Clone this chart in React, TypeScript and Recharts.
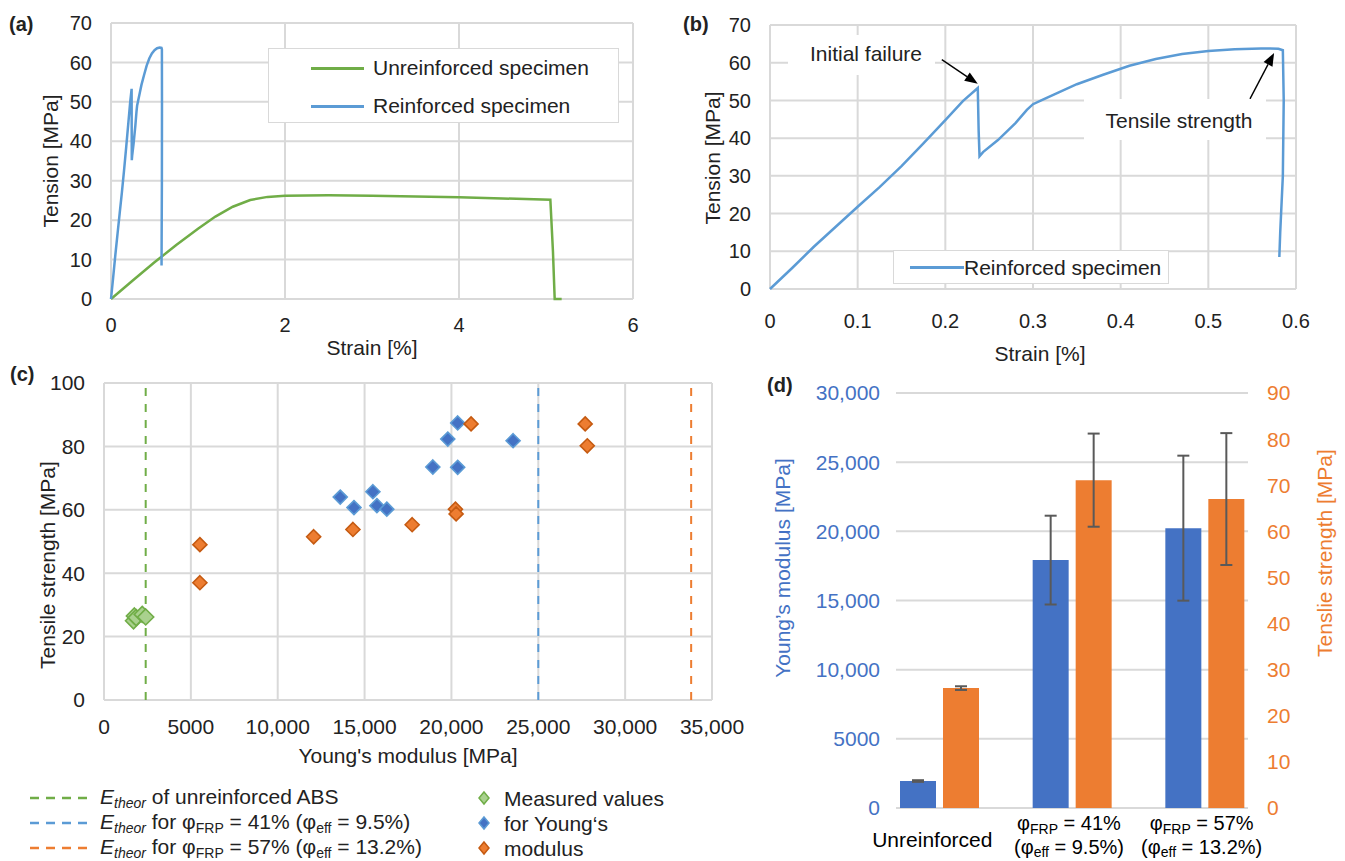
import React from "react";
import {
  Bar,
  BarChart,
  CartesianGrid,
  ErrorBar,
  Line,
  LineChart,
  ReferenceLine,
  Scatter,
  ScatterChart,
  XAxis,
  YAxis,
} from "recharts";

const FONT = "'Liberation Sans', Arial, sans-serif";
const INK = "#222";
const GRID = "#d9d9d9";
const GREEN = "#70ad47";
const LINE_BLUE = "#5b9bd5";
const BLUE = "#4472c4";
const ORANGE = "#ed7d31";

// (a) + (b) stress-strain curves, strain in %, tension in MPa
const strainUnreinf = [0, 0.25, 0.5, 0.75, 1.0, 1.2, 1.4, 1.6, 1.8, 2.0, 2.5, 3.0, 3.5, 4.0, 4.5, 5.05, 5.08, 5.1, 5.18];
const tensionUnreinf = [0, 4.7, 9.3, 13.7, 17.8, 20.9, 23.4, 25.1, 25.9, 26.2, 26.3, 26.2, 26.0, 25.8, 25.5, 25.2, 12, 0, 0];

const strainReinf = [
  0, 0.025, 0.05, 0.075, 0.1, 0.125, 0.15, 0.175, 0.2, 0.22, 0.237, 0.238, 0.239, 0.243, 0.26, 0.28, 0.293,
  0.3, 0.31, 0.33, 0.35, 0.38, 0.41, 0.44, 0.47, 0.5, 0.53, 0.56, 0.58, 0.585, 0.586, 0.585, 0.582, 0.581,
];
const tensionReinf = [
  0, 5.5, 11.2, 16.5, 21.8, 27, 32.6, 38.6, 44.8, 49.8, 53.3, 42, 35.2, 36.3, 39.5, 44, 47.5,
  49, 50.1, 52.2, 54.3, 56.8, 59.2, 61, 62.3, 63.1, 63.6, 63.8, 63.7, 63.3, 50, 30, 15, 8.5,
];

// (b) annotation arrows [from, to] in data units
const arrowInitial = [{ x: 0.196, y: 60.8 }, { x: 0.237, y: 54.4 }];
const arrowTensile = [{ x: 0.5475, y: 50.4 }, { x: 0.575, y: 62.6 }];

// (c) Young's modulus vs tensile strength
const absE = [1700, 1750, 1850, 2200, 2400];
const absS = [25, 26.5, 26, 27, 26.2];
const frp41E = [13600, 14390, 15480, 15710, 16280, 18930, 19790, 20360, 20360, 23550];
const frp41S = [64.0, 60.7, 65.7, 61.3, 60.2, 73.5, 82.3, 87.4, 73.4, 81.8];
const frp57E = [5520, 5520, 12070, 14330, 17740, 20230, 20270, 21130, 27700, 27820];
const frp57S = [49, 37, 51.5, 53.8, 55.3, 60.2, 58.7, 87.1, 87.1, 80.2];
const eTheor = [2400, 25000, 33800];

// (d) means with standard deviation
const groups = ["Unreinforced", "41", "57"];
const frpLabel = ["", "41%", "57%"];
const effLabel = ["", "9.5%", "13.2%"];
const modulus = [1950, 17920, 20230];
const modulusErr = [60, 3210, 5240];
const strength = [26.0, 71.1, 67.0];
const strengthErr = [0.4, 10.1, 14.3];

const pts = (xs: number[], ys: number[]) => xs.map((x, i) => ({ x, y: ys[i] }));

const tick = (size = 20, fill = INK) => ({ fill, fontSize: size, fontFamily: FONT });

const fmtThousands = (v: number) => (v >= 10000 ? v.toLocaleString("en-US") : String(v));

const arrow = (p: any) => {
  const { x1, y1, x2, y2 } = p;
  const a = Math.atan2(y2 - y1, x2 - x1);
  const L = 13;
  const W = 5;
  const bx = x2 - L * Math.cos(a);
  const by = y2 - L * Math.sin(a);
  const tri = `${x2},${y2} ${bx - W * Math.sin(a)},${by + W * Math.cos(a)} ${bx + W * Math.sin(a)},${by - W * Math.cos(a)}`;
  return (
    <g>
      <line x1={x1} y1={y1} x2={bx} y2={by} stroke="#000" strokeWidth={1.4} />
      <polygon points={tri} fill="#000" />
    </g>
  );
};

const diamond = (fill: string, stroke: string, r = 7) => (p: any) => (
  <path
    d={`M${p.cx},${p.cy - r}L${p.cx + r},${p.cy}L${p.cx},${p.cy + r}L${p.cx - r},${p.cy}Z`}
    fill={fill}
    stroke={stroke}
    strokeWidth={1.6}
  />
);

function CatTick(p: any) {
  const i = groups.indexOf(p.payload.value);
  const st = { fontSize: 20, fontFamily: FONT, fill: "#000" };
  if (!frpLabel[i]) {
    return (
      <text x={p.x - 7} y={p.y + 39} textAnchor="middle" fontSize={21} fontFamily={FONT} fill="#000">
        Unreinforced
      </text>
    );
  }
  return (
    <g>
      <text x={p.x - 3} y={p.y + 22} textAnchor="middle" {...st}>
        φ<tspan fontSize={14} dy={4}>FRP</tspan>
        <tspan dy={-4}>{` = ${frpLabel[i]}`}</tspan>
      </text>
      <text x={p.x - 3} y={p.y + 46} textAnchor="middle" {...st}>
        (φ<tspan fontSize={14} dy={3}>eff</tspan>
        <tspan dy={-3}>{` = ${effLabel[i]})`}</tspan>
      </text>
    </g>
  );
}

function Txt({ x, y, children, size = 21, color = INK, rot = false, bold = false, left = false }: any) {
  return (
    <div
      style={{
        position: "absolute",
        left: x,
        top: y,
        transform: `translate(${left ? "0" : "-50%"}, -50%)${rot ? " rotate(-90deg)" : ""}`,
        fontSize: size,
        color,
        fontWeight: bold ? 700 : 400,
        whiteSpace: "nowrap",
        lineHeight: 1,
        fontFamily: FONT,
      }}
    >
      {children}
    </div>
  );
}

function Dash({ color }: { color: string }) {
  return (
    <svg width={62} height={4} style={{ position: "absolute", left: 30, top: -2 }}>
      <line x1={0} y1={2} x2={62} y2={2} stroke={color} strokeWidth={2.5} strokeDasharray="9 7" />
    </svg>
  );
}

const Et = () => (
  <>
    <i>E</i>
    <sub style={{ fontSize: 14, fontStyle: "italic", verticalAlign: "-4px" }}>theor</sub>
  </>
);
const Sub = ({ t }: { t: string }) => <sub style={{ fontSize: 14, verticalAlign: "-4px" }}>{t}</sub>;

export default function App() {
  const unreinf = pts(strainUnreinf, tensionUnreinf);
  const reinf = pts(strainReinf, tensionReinf);
  const barData = groups.map((g, i) => ({
    g,
    E: modulus[i],
    eErr: modulusErr[i],
    S: strength[i],
    sErr: strengthErr[i],
  }));

  return (
    <div
      style={{
        position: "absolute",
        left: 0,
        top: 0,
        width: 1345,
        height: 861,
        background: "#fff",
        overflow: "hidden",
        fontFamily: FONT,
      }}
    >
      {/* (a) */}
      <div style={{ position: "absolute", left: 0, top: 0 }}>
        <LineChart width={660} height={360} margin={{ top: 23, right: 27, left: 0, bottom: 0 }}>
          <CartesianGrid stroke={GRID} strokeWidth={2} />
          <XAxis
            type="number"
            dataKey="x"
            domain={[0, 6]}
            ticks={[0, 2, 4, 6]}
            height={61}
            axisLine={false}
            tickLine={false}
            tickSize={0}
            tickMargin={19}
            tick={tick(20)}
          />
          <YAxis
            type="number"
            dataKey="y"
            domain={[0, 70]}
            ticks={[0, 10, 20, 30, 40, 50, 60, 70]}
            width={111}
            axisLine={false}
            tickLine={false}
            tickSize={0}
            tickMargin={19}
            tick={tick(20)}
          />
          <Line data={unreinf} dataKey="y" type="linear" stroke={GREEN} strokeWidth={2.5} dot={false} isAnimationActive={false} />
          <Line data={reinf} dataKey="y" type="linear" stroke={LINE_BLUE} strokeWidth={2.5} dot={false} isAnimationActive={false} />
        </LineChart>
      </div>

      {/* (b) */}
      <div style={{ position: "absolute", left: 680, top: 0 }}>
        <LineChart width={665} height={370} margin={{ top: 25, right: 49, left: 0, bottom: 0 }}>
          <CartesianGrid stroke={GRID} strokeWidth={2} />
          <XAxis
            type="number"
            dataKey="x"
            domain={[0, 0.6]}
            ticks={[0, 0.1, 0.2, 0.3, 0.4, 0.5, 0.6]}
            height={81}
            axisLine={false}
            tickLine={false}
            tickSize={0}
            tickMargin={25}
            tick={tick(20)}
          />
          <YAxis
            type="number"
            dataKey="y"
            domain={[0, 70]}
            ticks={[0, 10, 20, 30, 40, 50, 60, 70]}
            width={90}
            axisLine={false}
            tickLine={false}
            tickSize={0}
            tickMargin={19}
            tick={tick(20)}
          />
          <Line data={reinf} dataKey="y" type="linear" stroke={LINE_BLUE} strokeWidth={2.5} dot={false} isAnimationActive={false} />
          <ReferenceLine segment={arrowInitial} ifOverflow="visible" shape={arrow} />
          <ReferenceLine segment={arrowTensile} ifOverflow="visible" shape={arrow} />
        </LineChart>
      </div>

      {/* (c) */}
      <div style={{ position: "absolute", left: 0, top: 360 }}>
        <ScatterChart width={770} height={400} margin={{ top: 23, right: 58, left: 0, bottom: 0 }}>
          <CartesianGrid stroke={GRID} strokeWidth={2} />
          <XAxis
            type="number"
            dataKey="x"
            domain={[0, 35000]}
            ticks={[0, 5000, 10000, 15000, 20000, 25000, 30000, 35000]}
            tickFormatter={fmtThousands}
            height={60}
            axisLine={false}
            tickLine={false}
            tickSize={0}
            tickMargin={19}
            tick={tick(21)}
          />
          <YAxis
            type="number"
            dataKey="y"
            domain={[0, 100]}
            ticks={[0, 20, 40, 60, 80, 100]}
            width={104}
            axisLine={false}
            tickLine={false}
            tickSize={0}
            tickMargin={19}
            tick={tick(21)}
          />
          <ReferenceLine x={eTheor[0]} stroke={GREEN} strokeWidth={2} strokeDasharray="8 8" />
          <ReferenceLine x={eTheor[1]} stroke={LINE_BLUE} strokeWidth={2} strokeDasharray="8 8" />
          <ReferenceLine x={eTheor[2]} stroke={ORANGE} strokeWidth={2} strokeDasharray="8 8" />
          <Scatter data={pts(absE, absS)} shape={diamond("#a9d18e", GREEN, 8)} isAnimationActive={false} />
          <Scatter data={pts(frp41E, frp41S)} shape={diamond(BLUE, LINE_BLUE)} isAnimationActive={false} />
          <Scatter data={pts(frp57E, frp57S)} shape={diamond(ORANGE, "#c55a11")} isAnimationActive={false} />
        </ScatterChart>
      </div>

      {/* (d) */}
      <div style={{ position: "absolute", left: 760, top: 370 }}>
        <BarChart
          width={585}
          height={491}
          data={barData}
          margin={{ top: 23, right: 0, left: 0, bottom: 0 }}
          barGap={7}
          barSize={36}
        >
          <CartesianGrid stroke={GRID} strokeWidth={2} vertical={false} yAxisId="e" />
          <XAxis
            dataKey="g"
            height={53}
            padding={{ left: -23, right: -23 }}
            axisLine={false}
            tickLine={false}
            tickSize={0}
            tickMargin={0}
            tick={CatTick}
            interval={0}
          />
          <YAxis
            yAxisId="e"
            orientation="left"
            domain={[0, 30000]}
            ticks={[0, 5000, 10000, 15000, 20000, 25000, 30000]}
            tickFormatter={fmtThousands}
            width={136}
            axisLine={false}
            tickLine={false}
            tickSize={0}
            tickMargin={16}
            tick={tick(21, BLUE)}
          />
          <YAxis
            yAxisId="s"
            orientation="right"
            domain={[0, 90]}
            ticks={[0, 10, 20, 30, 40, 50, 60, 70, 80, 90]}
            width={97}
            axisLine={false}
            tickLine={false}
            tickSize={0}
            tickMargin={19}
            tick={tick(21, ORANGE)}
          />
          <Bar yAxisId="e" dataKey="E" fill={BLUE} isAnimationActive={false}>
            <ErrorBar dataKey="eErr" width={6} strokeWidth={2} stroke="#595959" />
          </Bar>
          <Bar yAxisId="s" dataKey="S" fill={ORANGE} isAnimationActive={false}>
            <ErrorBar dataKey="sErr" width={6} strokeWidth={2} stroke="#595959" />
          </Bar>
        </BarChart>
      </div>

      {/* legend (a) */}
      <div
        style={{
          position: "absolute",
          left: 268,
          top: 48,
          width: 351,
          height: 75,
          background: "#fff",
          border: `1.5px solid ${GRID}`,
          boxSizing: "border-box",
        }}
      >
        <div style={{ position: "absolute", left: 42, top: 18, width: 53, height: 3, background: GREEN }} />
        <div style={{ position: "absolute", left: 42, top: 56, width: 53, height: 3, background: LINE_BLUE }} />
      </div>
      <Txt x={373} y={67} left>Unreinforced specimen</Txt>
      <Txt x={373} y={105} left>Reinforced specimen</Txt>

      {/* legend (b) */}
      <div
        style={{
          position: "absolute",
          left: 893,
          top: 250,
          width: 276,
          height: 34,
          background: "#fff",
          border: `1.5px solid ${GRID}`,
          boxSizing: "border-box",
        }}
      >
        <div style={{ position: "absolute", left: 16, top: 15, width: 54, height: 3, background: LINE_BLUE }} />
      </div>
      <Txt x={964} y={267} left>Reinforced specimen</Txt>

      {/* (b) annotations */}
      <div style={{ position: "absolute", left: 788, top: 35, width: 147, height: 40, background: "#fff" }} />
      <Txt x={866} y={53}>Initial failure</Txt>
      <div style={{ position: "absolute", left: 1084, top: 99, width: 182, height: 41, background: "#fff" }} />
      <Txt x={1179} y={120}>Tensile strength</Txt>

      {/* panel letters */}
      <Txt x={9} y={24} size={20} bold left>(a)</Txt>
      <Txt x={683} y={24} size={20} bold left>(b)</Txt>
      <Txt x={10} y={374} size={20} bold left>(c)</Txt>
      <Txt x={767} y={385} size={20} bold left>(d)</Txt>

      {/* axis titles */}
      <Txt x={50} y={161} rot>Tension [MPa]</Txt>
      <Txt x={372} y={347}>Strain [%]</Txt>
      <Txt x={712} y={158} rot>Tension [MPa]</Txt>
      <Txt x={1040} y={353}>Strain [%]</Txt>
      <Txt x={47} y={565} rot>Tensile strength [MPa]</Txt>
      <Txt x={408} y={755}>Young's modulus [MPa]</Txt>
      <Txt x={782} y={568} rot color={BLUE}>Young’s modulus [MPa]</Txt>
      <Txt x={1324} y={553} rot color={ORANGE}>Tenslie strength [MPa]</Txt>

      {/* legend (c) */}
      <div style={{ position: "absolute", left: 0, top: 798 }}>
        <Dash color={GREEN} />
      </div>
      <div style={{ position: "absolute", left: 0, top: 823 }}>
        <Dash color={LINE_BLUE} />
      </div>
      <div style={{ position: "absolute", left: 0, top: 848 }}>
        <Dash color={ORANGE} />
      </div>
      <Txt x={100} y={798} left>
        <Et /> of unreinforced ABS
      </Txt>
      <Txt x={100} y={823} left>
        <Et /> for φ<Sub t="FRP" /> = 41% (φ<Sub t="eff" /> = 9.5%)
      </Txt>
      <Txt x={100} y={848} left>
        <Et /> for φ<Sub t="FRP" /> = 57% (φ<Sub t="eff" /> = 13.2%)
      </Txt>
      <svg width={20} height={90} style={{ position: "absolute", left: 474, top: 785 }}>
        <path d="M10,7 L15,13 L10,19 L5,13 Z" fill="#a9d18e" stroke={GREEN} strokeWidth={1.5} />
        <path d="M10,32 L15,38 L10,44 L5,38 Z" fill={BLUE} stroke={LINE_BLUE} strokeWidth={1.5} />
        <path d="M10,57 L15,63 L10,69 L5,63 Z" fill={ORANGE} stroke="#c55a11" strokeWidth={1.5} />
      </svg>
      <Txt x={504} y={798} left>Measured values</Txt>
      <Txt x={504} y={823} left>for Young‘s</Txt>
      <Txt x={504} y={848} left>modulus</Txt>
    </div>
  );
}
